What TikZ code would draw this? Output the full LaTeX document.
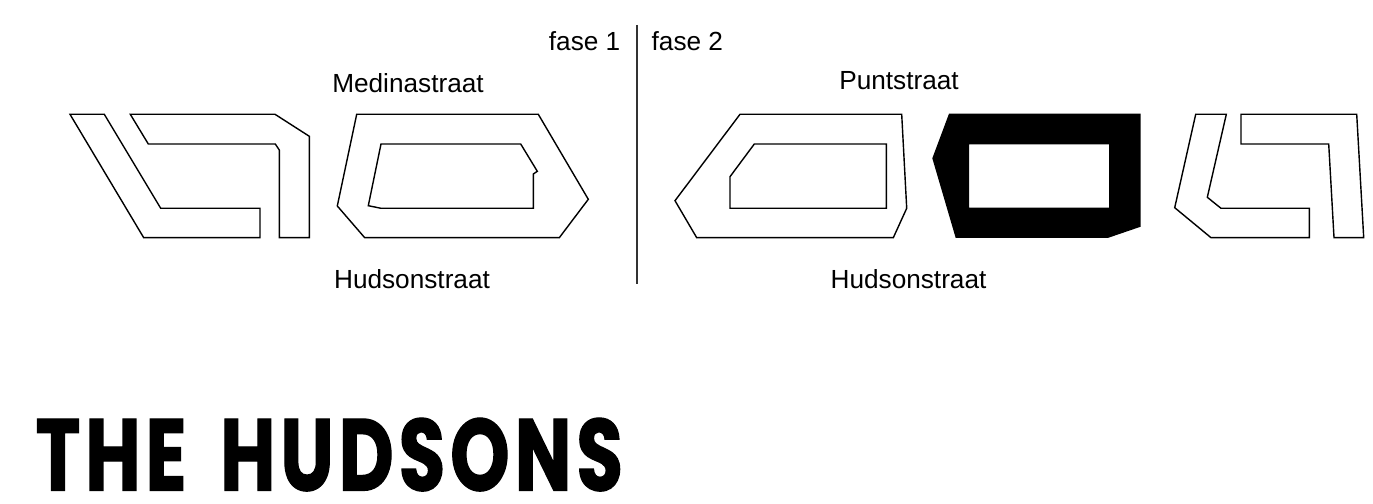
\documentclass[tikz,border=0pt]{standalone}
\usepackage{fontspec}
\setmainfont{Liberation Sans}
\newfontfamily\titlefont{Poppins}[LetterSpace=5,FakeStretch=0.74,FakeBold=1.2,WordSpace=1.6]
\tikzset{
  block/.style={draw=black,line width=0.4pt,line join=miter},
  filledblock/.style={fill=black,even odd rule},
  street/.style={font=\fontsize{7.45pt}{9pt}\selectfont,inner sep=0pt,text=black},
  brand/.style={font=\fontsize{29pt}{32pt}\titlefont\bfseries,inner sep=0pt,anchor=base west}
}
\begin{document}
\begin{tikzpicture}[x=0.01cm,y=-0.01cm]
\useasboundingbox (0,0) rectangle (1373,504);
% The line between the two phases
\coordinate (divtop) at (637,25);
\coordinate (divbottom) at (637,284);
\draw[line width=0.35pt,black!80] (divtop) -- (divbottom);
% Labels
\draw (621,41) node[street,anchor=east] (fase1) {fase 1};
\draw (651,41) node[street,anchor=west] (fase2) {fase 2};
\draw (408,83) node[street] (medina) {Medinastraat};
\draw (899,81) node[street] (punt) {Puntstraat};
\draw (412,279) node[street] (hudson1) {Hudsonstraat};
\draw (908.5,279) node[street] (hudson2) {Hudsonstraat};
% Fase 1
\draw[block] (70,114.3) -- (104.3,114.3) -- (160.7,208.3) -- (260,208.3) -- (260,237.7) -- (143.7,237.7) -- cycle;
\draw[block] (130.3,114.3) -- (275,114.3) -- (309.3,136.3) -- (309.3,237.7) -- (279.3,237.7) -- (279.3,150) -- (275.3,144) -- (148.3,144) -- cycle;
\draw[block] (356.7,114.3) -- (538.3,114.3) -- (588.3,199.3) -- (559.3,237.7) -- (364.7,237.7) -- (337.3,206) -- cycle;
\draw[block] (381,144) -- (520.7,144) -- (537.3,171.3) -- (533.3,174) -- (533.3,208.3) -- (381,208.3) -- (368.3,205.7) -- cycle;
% Fase 2
\draw[block] (740,114.3) -- (901.7,114.3) -- (906.7,208.3) -- (893.3,237.7) -- (696.7,237.7) -- (675,200.7) -- cycle;
\draw[block] (754.3,144) -- (886.3,144) -- (886.3,208.3) -- (730,208.3) -- (730,176.7) -- cycle;
% The black block, the hole is cut with the even odd rule
\fill[filledblock] (949,113.7) -- (1140.7,113.7) -- (1140.7,226.7) -- (1107.7,238) -- (955.7,238) -- (932.3,158.3) -- cycle
  (969,144.3) -- (1109,144.3) -- (1109,207.7) -- (969,207.7) -- cycle;
\draw[block] (1195.7,114.3) -- (1226.3,114.3) -- (1207.3,197.3) -- (1221,208.3) -- (1309.3,208.3) -- (1309.3,237.7) -- (1211,237.7) -- (1174.7,207.7) -- cycle;
\draw[block] (1241,114.3) -- (1356.7,114.3) -- (1363.7,237.7) -- (1334,237.7) -- (1328.7,144) -- (1241,144) -- cycle;
% Name of the building
\draw (35,490.5) node[brand] (title) {THE HUDSONS};
\end{tikzpicture}
\end{document}
